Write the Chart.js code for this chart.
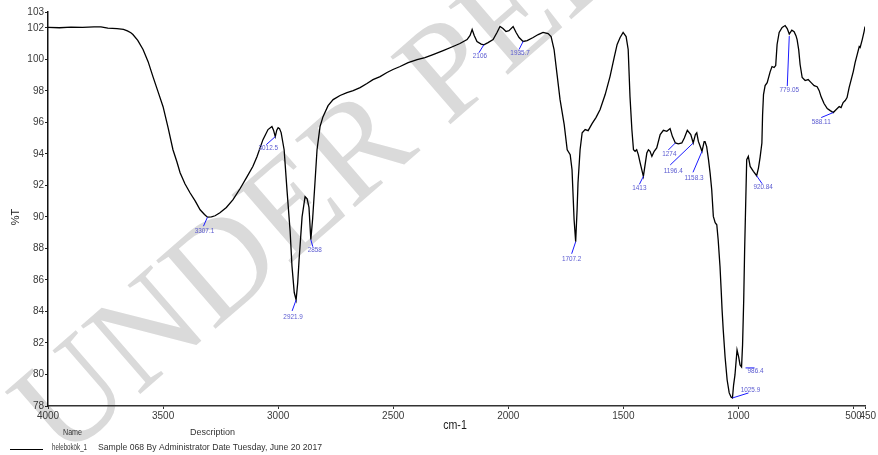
<!DOCTYPE html>
<html>
<head>
<meta charset="utf-8">
<script src="https://cdn.jsdelivr.net/npm/chart.js@4.4.1/dist/chart.umd.min.js"></script>
<style>
  html, body { margin: 0; padding: 0; background: #ffffff; }
  #wrap { position: relative; width: 878px; height: 455px; }
</style>
</head>
<body>
<div id="wrap"><canvas id="spectrum" width="878" height="455"></canvas></div>
<script>
// FT-IR spectrum: wavenumber (cm-1) and transmittance (%T)
const wavenumbers = [
  4000, 3950, 3900, 3850, 3800, 3770, 3740, 3700, 3672, 3655, 3640, 3631, 3610, 3587, 3565, 3544,
  3522, 3500, 3478, 3457, 3440, 3426, 3405, 3383, 3360, 3339, 3320, 3307.1, 3290, 3274, 3253, 3225,
  3196, 3165, 3135, 3110, 3092, 3066, 3044, 3027, 3020, 3012.5, 3006, 3000, 2994, 2987, 2974, 2961,
  2948, 2940, 2930, 2921.9, 2915, 2909, 2896, 2883, 2874, 2866, 2858, 2850, 2840, 2831, 2818, 2805,
  2783, 2761, 2731, 2701, 2674, 2644, 2614, 2588, 2557, 2527, 2501, 2470, 2435, 2396, 2362, 2327,
  2283, 2240, 2210, 2179, 2166, 2157, 2148, 2136, 2118, 2106, 2088, 2066, 2049, 2036, 2023, 2010,
  1997, 1979, 1966, 1953, 1935.7, 1918, 1892, 1870, 1849, 1827, 1814, 1801, 1788, 1775, 1757, 1744,
  1731, 1723, 1714, 1707.2, 1701, 1697, 1688, 1679, 1666, 1653, 1636, 1619, 1601, 1579, 1558, 1540,
  1527, 1514, 1501, 1488, 1479, 1471, 1463, 1456, 1449, 1442, 1435, 1427, 1413, 1398, 1391, 1384,
  1376, 1366, 1355, 1340, 1326, 1311, 1297, 1287, 1274, 1261, 1246, 1235, 1222, 1207, 1196.4, 1187,
  1181, 1174, 1158.3, 1149, 1145, 1138, 1130, 1123, 1116, 1109, 1101, 1094, 1088, 1080, 1075, 1071,
  1066, 1058, 1049, 1040, 1032, 1025.9, 1021, 1015, 1006, 999, 993, 986.4, 982, 977, 973, 969,
  964, 957, 949, 935, 920.84, 913, 906, 898, 895, 891, 884, 875, 862, 854, 845, 838,
  832, 823, 810, 797, 788, 779.05, 768, 758, 750, 745, 738, 732, 723, 710, 697, 684,
  671, 658, 649, 641, 628, 614, 601, 588.11, 575, 562, 554, 545, 536, 528, 519, 510,
  501, 493, 484, 475, 471, 462, 454, 450
];
const transmittance = [
  102.02, 102.0, 102.04, 102.02, 102.05, 102.06, 101.98, 101.94, 101.9, 101.8, 101.68, 101.57, 101.2, 100.62, 99.85, 98.9,
  97.95, 96.99, 95.65, 94.26, 93.5, 92.8, 92.1, 91.53, 91.0, 90.45, 90.15, 89.98, 90.0, 90.07, 90.26, 90.6,
  91.09, 91.8, 92.55, 93.2, 93.82, 94.9, 95.54, 95.73, 95.5, 95.09, 95.5, 95.66, 95.6, 95.35, 94.26, 91.6,
  89.1, 86.9, 85.2, 84.73, 85.8, 87.27, 90.0, 91.28, 91.15, 90.6, 88.55, 89.9, 92.17, 94.26, 95.73, 96.36,
  97.06, 97.44, 97.7, 97.89, 98.01, 98.2, 98.46, 98.71, 98.9, 99.16, 99.35, 99.54, 99.79, 99.98, 100.11, 100.3,
  100.55, 100.81, 101.0, 101.25, 101.51, 101.89, 101.51, 101.13, 100.96, 100.92, 101.06, 101.25, 101.7, 102.08, 101.95, 101.76,
  101.82, 102.08, 101.7, 101.38, 101.13, 101.19, 101.38, 101.57, 101.7, 101.63, 101.44, 100.62, 99.03, 97.44, 95.85, 94.26,
  93.94, 92.99, 89.82, 88.42, 90.45, 92.17, 94.26, 95.34, 95.54, 95.47, 95.92, 96.3, 96.81, 97.76, 98.9, 100.11,
  100.94, 101.38, 101.7, 101.44, 100.62, 97.6, 95.54, 94.26, 94.16, 94.26, 93.95, 93.42, 92.57, 94.05, 94.26, 94.16,
  93.84, 94.16, 94.37, 95.22, 95.49, 95.43, 95.6, 95.11, 94.69, 94.63, 94.69, 95.01, 95.49, 95.22, 94.69, 95.22,
  95.33, 94.79, 94.16, 94.77, 94.77, 94.46, 93.63, 92.78, 91.72, 90.03, 89.63, 89.5, 88.55, 86.85, 85.37, 84.1,
  82.83, 81.11, 79.65, 78.83, 78.57, 78.51, 79.33, 79.97, 81.56, 81.12, 80.61, 80.48, 81.88, 84.73, 87.91, 90.45,
  93.63, 93.84, 93.2, 92.89, 92.61, 93.1, 93.76, 94.69, 96.49, 97.76, 98.33, 98.52, 99.22, 99.54, 99.48, 99.6,
  100.94, 101.7, 102.02, 102.14, 101.95, 101.6, 101.85, 101.75, 101.5, 101.25, 100.6, 99.67, 98.84, 98.65, 98.71, 98.52,
  98.33, 98.26, 98.01, 97.63, 97.19, 96.87, 96.74, 96.62, 96.81, 97.0, 96.94, 97.25, 97.38, 97.57, 98.2, 98.71,
  99.22, 99.79, 100.3, 100.81, 100.75, 101.25, 101.76, 102.08
];

// Axis tick values
const xTickValues = [4000, 3500, 3000, 2500, 2000, 1500, 1000, 500, 450];
const yTickValues = [78, 80, 82, 84, 86, 88, 90, 92, 94, 96, 98, 100, 102, 103];

// Labelled absorption bands (cm-1)
const peakPositions = [3307.1, 3012.5, 2921.9, 2858, 2106, 1935.7, 1707.2, 1413, 1274, 1196.4,
                       1158.3, 1025.9, 986.4, 920.84, 779.05, 588.11];

// Leader line start/end and label offsets (px) relative to each band point
const peakLeaderStyle = [
  [0, 0, -4, 9, -3, 14],
  [0, 0, -9, 8, -7, 11],
  [0, 0, -4, 11, -3, 17],
  [0, 0, 2, 7, 4, 10],
  [0, 0, -5, 8, -4, 11],
  [0, 0, -4, 8, -3, 11],
  [0, 0, -4, 12, -4, 17],
  [0, 0, -4, 8, -4, 12],
  [0, 0, -7, 7, -6, 11],
  [0, 0, -23, 22, -20, 28],
  [0, 0, -9, 21, -8, 27],
  [0, 0, 16, -5, 18, -8],
  [4, 1, 13, 1, 14, 4],
  [0, 0, 5.5, 8, 6.5, 11],
  [0, 2, -2, 52, 0, 56],
  [0, 0, -12, 5, -12, 9]
];

const sampleName = 'helebokök_1';
const sampleDescription = 'Sample 068 By Administrator Date Tuesday, June 20 2017';
const xTitle = 'cm-1';
const yTitle = '%T';
const watermarkText = 'UNDER PEER REVIEW';

const SANS = '"Liberation Sans", Arial, sans-serif';

// Horizontally condensed text, optionally fitted to a given width
function condensedText(ctx, text, x, y, font, scaleX, align, fitWidth) {
  ctx.save();
  ctx.font = font;
  let sx = scaleX;
  if (fitWidth) sx = fitWidth / ctx.measureText(text).width;
  ctx.translate(x, y);
  ctx.scale(sx, 1);
  ctx.textAlign = align;
  ctx.fillText(text, 0, 0);
  ctx.restore();
}

const decorations = {
  id: 'decorations',
  beforeDraw(chart) {
    const ctx = chart.ctx;
    ctx.save();
    ctx.translate(62, 462);
    ctx.rotate(-41 * Math.PI / 180);
    ctx.font = '138px "Liberation Serif", "DejaVu Serif", serif';
    ctx.fillStyle = '#dadada';
    ctx.textBaseline = 'alphabetic';
    ctx.fillText(watermarkText, 0, 0);
    ctx.restore();
  },
  afterDatasetsDraw(chart) {
    const ctx = chart.ctx;
    const xs = chart.scales.x, ys = chart.scales.y;
    ctx.save();
    ctx.textBaseline = 'middle';
    peakPositions.forEach((p, i) => {
      const idx = wavenumbers.indexOf(p);
      const ax = xs.getPixelForValue(p);
      const ay = ys.getPixelForValue(transmittance[idx]);
      const [sx, sy, ex, ey, lx, ly] = peakLeaderStyle[i];
      ctx.strokeStyle = '#1a1aff';
      ctx.lineWidth = 1;
      ctx.beginPath();
      ctx.moveTo(ax + sx, ay + sy);
      ctx.lineTo(ax + ex, ay + ey);
      ctx.stroke();
      ctx.fillStyle = '#5a5ad0';
      condensedText(ctx, String(p), ax + lx, ay + ly, '7.5px ' + SANS, 0.85, 'center');
    });
    ctx.restore();
  },
  afterDraw(chart) {
    const ctx = chart.ctx;
    ctx.save();
    ctx.textBaseline = 'middle';
    ctx.fillStyle = '#1a1a1a';
    // axis titles
    condensedText(ctx, xTitle, 455, 426, '12.5px ' + SANS, 0.85, 'center');
    ctx.save();
    ctx.translate(16, 217);
    ctx.rotate(-Math.PI / 2);
    ctx.font = '11px ' + SANS;
    ctx.textAlign = 'center';
    ctx.fillText(yTitle, 0, 0);
    ctx.restore();
    // sample legend
    ctx.fillStyle = '#333333';
    condensedText(ctx, 'Name', 63, 432, '9.5px ' + SANS, 1, 'left', 19);
    condensedText(ctx, 'Description', 190, 432, '9.5px ' + SANS, 1, 'left', 45);
    condensedText(ctx, sampleName, 52, 447, '9.5px ' + SANS, 1, 'left', 35);
    condensedText(ctx, sampleDescription, 98, 447, '9.5px ' + SANS, 1, 'left', 224);
    ctx.strokeStyle = '#000000';
    ctx.lineWidth = 1;
    ctx.beginPath();
    ctx.moveTo(10, 449.5);
    ctx.lineTo(43, 449.5);
    ctx.stroke();
    ctx.restore();
  }
};

new Chart(document.getElementById('spectrum'), {
  type: 'line',
  data: {
    datasets: [{
      data: wavenumbers.map((w, i) => ({ x: w, y: transmittance[i] })),
      borderColor: '#000000',
      borderWidth: 1.3,
      pointRadius: 0,
      tension: 0,
      fill: false
    }]
  },
  options: {
    responsive: false,
    animation: false,
    plugins: { legend: { display: false }, tooltip: { enabled: false } },
    layout: { padding: { left: 0, right: 13, top: 12, bottom: 0 } },
    scales: {
      x: {
        type: 'linear',
        reverse: true,
        min: 450,
        max: 4000,
        afterBuildTicks: s => { s.ticks = xTickValues.map(v => ({ value: v })); },
        afterFit: s => { s.height = 49; },
        grid: { display: true, drawOnChartArea: false, drawTicks: true, tickLength: 3, color: '#333333' },
        border: { display: true, color: '#333333', width: 1.5 },
        ticks: {
          autoSkip: false, maxRotation: 0, padding: 1,
          font: { family: SANS, size: 10 }, color: '#3a3a3a',
          callback: v => (v === 450 ? '\u2007450' : String(v))
        }
      },
      y: {
        min: 78,
        max: 103,
        afterBuildTicks: s => { s.ticks = yTickValues.map(v => ({ value: v })); },
        afterFit: s => { s.width = 48; },
        grid: { display: true, drawOnChartArea: false, drawTicks: true, tickLength: 3, color: '#222222' },
        border: { display: true, color: '#111111', width: 1.5 },
        ticks: {
          autoSkip: false, padding: 1,
          font: { family: SANS, size: 10 }, color: '#3a3a3a',
          callback: v => String(v)
        }
      }
    }
  },
  plugins: [decorations]
});
</script>
</body>
</html>
